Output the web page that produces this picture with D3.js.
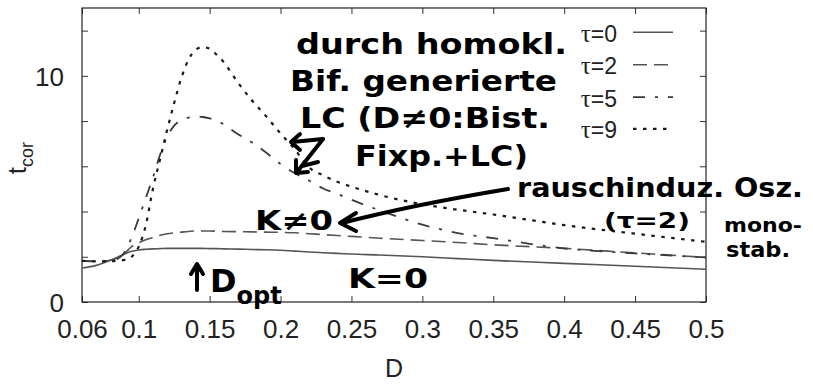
<!DOCTYPE html>
<html>
<head>
<meta charset="utf-8">
<script src="https://cdn.jsdelivr.net/npm/d3@7"></script>
<style>
  html, body { margin: 0; padding: 0; background: #fff; }
  svg { display: block; }
</style>
</head>
<body>
<svg id="chart" width="813" height="384"></svg>
<script>
// ---- data ----
const D      = [0.06, 0.07, 0.08, 0.085, 0.09, 0.095, 0.1, 0.105, 0.11, 0.115, 0.12, 0.125, 0.13, 0.135, 0.14, 0.145, 0.15, 0.155, 0.16, 0.17, 0.18, 0.19, 0.2, 0.21, 0.22, 0.23, 0.24, 0.25, 0.27, 0.3, 0.325, 0.35, 0.4, 0.45, 0.5];
const tau0   = [1.50, 1.62, 1.85, 1.98, 2.12, 2.24, 2.30, 2.33, 2.35, 2.36, 2.37, 2.37, 2.37, 2.37, 2.37, 2.37, 2.36, 2.36, 2.35, 2.34, 2.32, 2.31, 2.29, 2.25, 2.21, 2.18, 2.15, 2.12, 2.08, 2.00, 1.92, 1.84, 1.71, 1.58, 1.45];
const tau2   = [1.82, 1.80, 1.84, 1.95, 2.15, 2.45, 2.62, 2.75, 2.85, 2.95, 3.02, 3.06, 3.09, 3.12, 3.14, 3.14, 3.14, 3.13, 3.12, 3.11, 3.10, 3.09, 3.08, 3.06, 3.02, 2.98, 2.94, 2.90, 2.82, 2.72, 2.63, 2.53, 2.37, 2.17, 1.97];
const tau5   = [1.82, 1.80, 1.82, 1.90, 2.20, 2.85, 3.70, 4.60, 5.50, 6.50, 7.30, 7.80, 8.05, 8.15, 8.20, 8.18, 8.12, 8.03, 7.85, 7.42, 7.05, 6.60, 6.10, 5.70, 5.37, 5.02, 4.78, 4.52, 4.05, 3.42, 3.05, 2.82, 2.37, 2.15, 1.97];
const tau9   = [1.82, 1.80, 1.80, 1.83, 1.86, 2.00, 2.45, 3.40, 5.00, 6.30, 7.60, 8.80, 9.90, 10.70, 11.15, 11.27, 11.20, 10.93, 10.60, 9.70, 8.90, 8.20, 7.45, 6.75, 5.95, 5.60, 5.32, 5.10, 4.73, 4.32, 4.08, 3.87, 3.40, 3.02, 2.66];
const seriesNames  = ["τ=0", "τ=2", "τ=5", "τ=9"];
const xTicks       = [0.06, 0.1, 0.15, 0.2, 0.25, 0.3, 0.35, 0.4, 0.45, 0.5];
const xTickLabels  = ["0.06", "0.1", "0.15", "0.2", "0.25", "0.3", "0.35", "0.4", "0.45", "0.5"];
const yTicks       = [0, 2, 4, 6, 8, 10, 12];
const yTickLabels  = ["0", "", "", "", "", "10", ""];
const noteTexts    = ["durch homokl.", "Bif. generierte", "LC (D≠0:Bist.", "Fixp.+LC)",
                      "rauschinduz. Osz.", "(τ=2)", "mono-", "stab.", "K≠0", "K=0"];

// ---- layout ----
const svg = d3.select("#chart");
const L = 82, R = 706, T = 8, B = 302;
const x = d3.scaleLinear().domain([0.06, 0.5]).range([L, R]);
const y = d3.scaleLinear().domain([0, 13]).range([B, T]);
const axisFont = "'Liberation Sans', Arial, sans-serif";

// axes (gnuplot-style inward ticks, mirrored)
const gx = svg.append("g").attr("transform", `translate(0,${B})`)
  .call(d3.axisBottom(x).tickValues(xTicks).tickSize(-6).tickPadding(18)
        .tickFormat((d, i) => xTickLabels[i]));
const gxt = svg.append("g").attr("transform", `translate(0,${T})`)
  .call(d3.axisTop(x).tickValues(xTicks).tickSize(-6).tickFormat(""));
const gy = svg.append("g").attr("transform", `translate(${L},0)`)
  .call(d3.axisLeft(y).tickValues(yTicks).tickSize(-6).tickPadding(18)
        .tickFormat((d, i) => yTickLabels[i]));
const gyr = svg.append("g").attr("transform", `translate(${R},0)`)
  .call(d3.axisRight(y).tickValues(yTicks).tickSize(-6).tickFormat(""));
[gx, gxt, gy, gyr].forEach(g => {
  g.select(".domain").remove();
  g.selectAll(".tick line").attr("stroke", "#333").attr("stroke-width", 1);
  g.selectAll("text").attr("font-family", axisFont).attr("font-size", 26).attr("fill", "#222");
});
gy.selectAll("text").attr("dy", "0.36em");

// frame
svg.append("rect").attr("x", L).attr("y", T).attr("width", R - L).attr("height", B - T)
  .attr("fill", "none").attr("stroke", "#222").attr("stroke-width", 1.2);

// axis titles
svg.append("text").attr("x", (L + R) / 2).attr("y", 377).attr("text-anchor", "middle")
  .attr("font-family", axisFont).attr("font-size", 25).attr("fill", "#222").text("D");
const yl = svg.append("text").attr("transform", "translate(26,158) rotate(-90)")
  .attr("text-anchor", "middle").attr("font-family", axisFont).attr("fill", "#222");
yl.append("tspan").attr("font-size", 26).text("t");
yl.append("tspan").attr("font-size", 18).attr("dy", 7).text("cor");

// series
const styles = [
  { dash: null,            color: "#555", width: 1.6 },
  { dash: "14,7",          color: "#555", width: 1.6 },
  { dash: "12,10,3,10",    color: "#3a3a3a", width: 1.8 },
  { dash: "3.5,6.5",       color: "#1a1a1a", width: 2.2 }
];
const allSeries = [tau0, tau2, tau5, tau9];
const line = d3.line().x((d, i) => x(D[i])).y(d => y(d)).curve(d3.curveMonotoneX);
svg.append("clipPath").attr("id", "clip")
  .append("rect").attr("x", L).attr("y", T).attr("width", R - L).attr("height", B - T);
allSeries.forEach((s, k) => {
  svg.append("path").datum(s).attr("d", line)
    .attr("fill", "none").attr("stroke", styles[k].color)
    .attr("stroke-width", styles[k].width)
    .attr("stroke-dasharray", styles[k].dash)
    .attr("clip-path", "url(#clip)");
});

// legend
const legBase = [41.7, 74.3, 106.7, 138.3];
seriesNames.forEach((name, k) => {
  const t = svg.append("text").attr("x", 617).attr("y", legBase[k]).attr("text-anchor", "end")
    .attr("font-family", axisFont).attr("font-size", 23).attr("fill", "#222");
  t.append("tspan").attr("font-family", "'Liberation Serif', serif").attr("font-size", 25).text(name.slice(0, 1));
  t.append("tspan").text(name.slice(1));
  svg.append("line").attr("x1", 633).attr("x2", 673)
    .attr("y1", legBase[k] - 9.5).attr("y2", legBase[k] - 9.5)
    .attr("stroke", styles[k].color).attr("stroke-width", styles[k].width)
    .attr("stroke-dasharray", styles[k].dash);
});

// ---- handwritten annotations ----
const hand = "'DejaVu Sans', sans-serif";
const notePlace = [
  [296, 54, 271, 29], [290, 91, 267, 29], [300, 128, 250, 29], [355, 166, 173, 29],
  [517, 197, 286, 27], [604, 228, 86, 22], [724, 232, 78, 19], [726, 257, 64, 21],
  [255, 230, 78, 27], [348, 288, 80, 27]
];
noteTexts.forEach((txt, i) => {
  const p = notePlace[i];
  svg.append("text").attr("x", p[0]).attr("y", p[1])
    .attr("font-family", hand).attr("font-weight", "bold").attr("font-size", p[3])
    .attr("textLength", p[2]).attr("lengthAdjust", "spacingAndGlyphs")
    .attr("fill", "#000").text(txt);
});
// D_opt
const dopt = svg.append("text").attr("x", 210).attr("y", 292)
  .attr("font-family", hand).attr("font-weight", "bold").attr("fill", "#000");
dopt.append("tspan").attr("font-size", 32).text("D");
dopt.append("tspan").attr("font-size", 24).attr("dy", 12).text("opt");

// hand-drawn arrows
const ink = { stroke: "#000", "stroke-width": 4, fill: "none", "stroke-linecap": "round", "stroke-linejoin": "round" };
function pathInk(d) {
  const p = svg.append("path").attr("d", d);
  Object.entries(ink).forEach(([k, v]) => p.attr(k, v));
  return p;
}
// arrow from "rauschinduz." to K≠0
pathInk("M508,189 C460,197 400,208 342,223");
pathInk("M356,213 L340,223 L356,231");
// D_opt up arrow
pathInk("M197,290 L197,266");
pathInk("M191,274 L197,264 L203,274");
// zig-zag double arrow pointing to the tau=9 and tau=5 curves
pathInk("M323,139 L292,142");
pathInk("M300,134 L291,142 L300,150");
pathInk("M323,139 L297,172");
pathInk("M296,160 L296,173 L308,172");
pathInk("M302,166 L318,162");
</script>
</body>
</html>
